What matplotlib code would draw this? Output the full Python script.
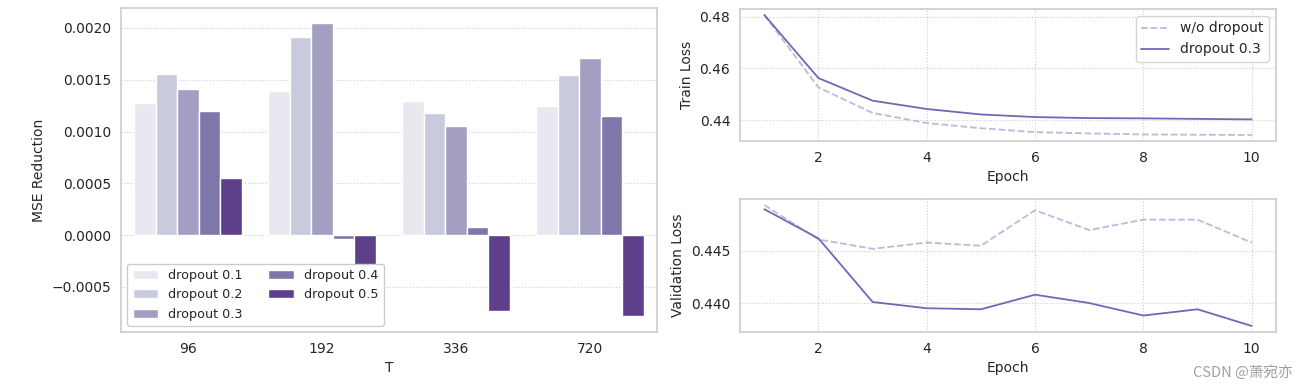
import matplotlib
matplotlib.use("Agg")
import matplotlib.pyplot as plt
import numpy as np
import pandas as pd
import seaborn as sns

# MSE reduction per horizon T and dropout rate
horizons = ["96", "192", "336", "720"]
dropout_labels = ["dropout 0.1", "dropout 0.2", "dropout 0.3", "dropout 0.4", "dropout 0.5"]
mse_d01 = [0.001275, 0.001391, 0.001294, 0.001243]
mse_d02 = [0.001556, 0.001909, 0.001184, 0.001544]
mse_d03 = [0.001408, 0.002049, 0.001051, 0.001715]
mse_d04 = [0.001194, -0.000033, 0.000078, 0.001155]
mse_d05 = [0.000553, -0.000400, -0.000735, -0.000780]

# loss curves
epochs = [1, 2, 3, 4, 5, 6, 7, 8, 9, 10]
train_no_dropout = [0.4806, 0.4527, 0.4429, 0.4390, 0.4370, 0.4355, 0.4350, 0.4346, 0.4345, 0.4344]
train_dropout03 = [0.4806, 0.4563, 0.4476, 0.4444, 0.4423, 0.4413, 0.4409, 0.4408, 0.4406, 0.4404]
val_no_dropout = [0.4494, 0.4461, 0.4452, 0.4458, 0.4455, 0.4489, 0.4470, 0.4480, 0.4480, 0.4458]
val_dropout03 = [0.4490, 0.4462, 0.4401, 0.4395, 0.4394, 0.4408, 0.4400, 0.4388, 0.4394, 0.4378]

sns.set_style("whitegrid", {"grid.linestyle": ":", "axes.edgecolor": "#d0d0d0"})
plt.rcParams["font.family"] = ["DejaVu Sans"]
plt.rcParams["font.size"] = 10

fig = plt.figure(figsize=(13.03, 3.9), dpi=100)
ax_bar = fig.add_axes([0.0929, 0.1487, 0.4114, 0.8308])
ax_tr = fig.add_axes([0.5679, 0.6385, 0.4114, 0.3385])
ax_va = fig.add_axes([0.5679, 0.1487, 0.4114, 0.3410])

rows = []
for lab, vals in zip(dropout_labels, [mse_d01, mse_d02, mse_d03, mse_d04, mse_d05]):
    for t, v in zip(horizons, vals):
        rows.append({"T": t, "MSE Reduction": v, "dropout": lab})
df = pd.DataFrame(rows)

sns.barplot(data=df, x="T", y="MSE Reduction", hue="dropout", palette="Purples",
            ax=ax_bar, edgecolor="white", linewidth=1)
ax_bar.set_ylim(-0.000935, 0.002193)
ax_bar.set_yticks([-0.0005, 0.0, 0.0005, 0.001, 0.0015, 0.002])
ax_bar.set_yticklabels(["\u22120.0005", "0.0000", "0.0005", "0.0010", "0.0015", "0.0020"])
ax_bar.grid(axis="x", visible=False)
leg = ax_bar.legend(loc="lower left", ncol=2, title=None, fontsize=9.2, frameon=True,
                    framealpha=1.0)

light = "#bdb8de"
dark = "#7466b4"
ax_tr.plot(epochs, train_no_dropout, color=light, linestyle="--", lw=1.3, label="w/o dropout")
ax_tr.plot(epochs, train_dropout03, color=dark, lw=1.3, label="dropout 0.3")
ax_tr.set_yticks([0.44, 0.46, 0.48])
ax_tr.set_xticks([2, 4, 6, 8, 10])
ax_tr.set_xlabel("Epoch")
ax_tr.set_ylabel("Train Loss")
ax_tr.legend(loc="upper right", fontsize=10)

ax_va.plot(epochs, val_no_dropout, color=light, linestyle="--", lw=1.3)
ax_va.plot(epochs, val_dropout03, color=dark, lw=1.3)
ax_va.set_yticks([0.440, 0.445])
ax_va.set_yticklabels(["0.440", "0.445"])
ax_va.set_xticks([2, 4, 6, 8, 10])
ax_va.set_xlabel("Epoch")
ax_va.set_ylabel("Validation Loss")

for ax in (ax_bar, ax_tr, ax_va):
    for s in ax.spines.values():
        s.set_color("#d0d0d0")
        s.set_linewidth(1.3)

fig.text(0.992, 0.045, "CSDN @萧宛亦", ha="right", va="center", fontsize=10.5, color="#a0a0a0",
         family=["Noto Sans CJK SC", "DejaVu Sans"])

fig.savefig("out.png", dpi=100)
